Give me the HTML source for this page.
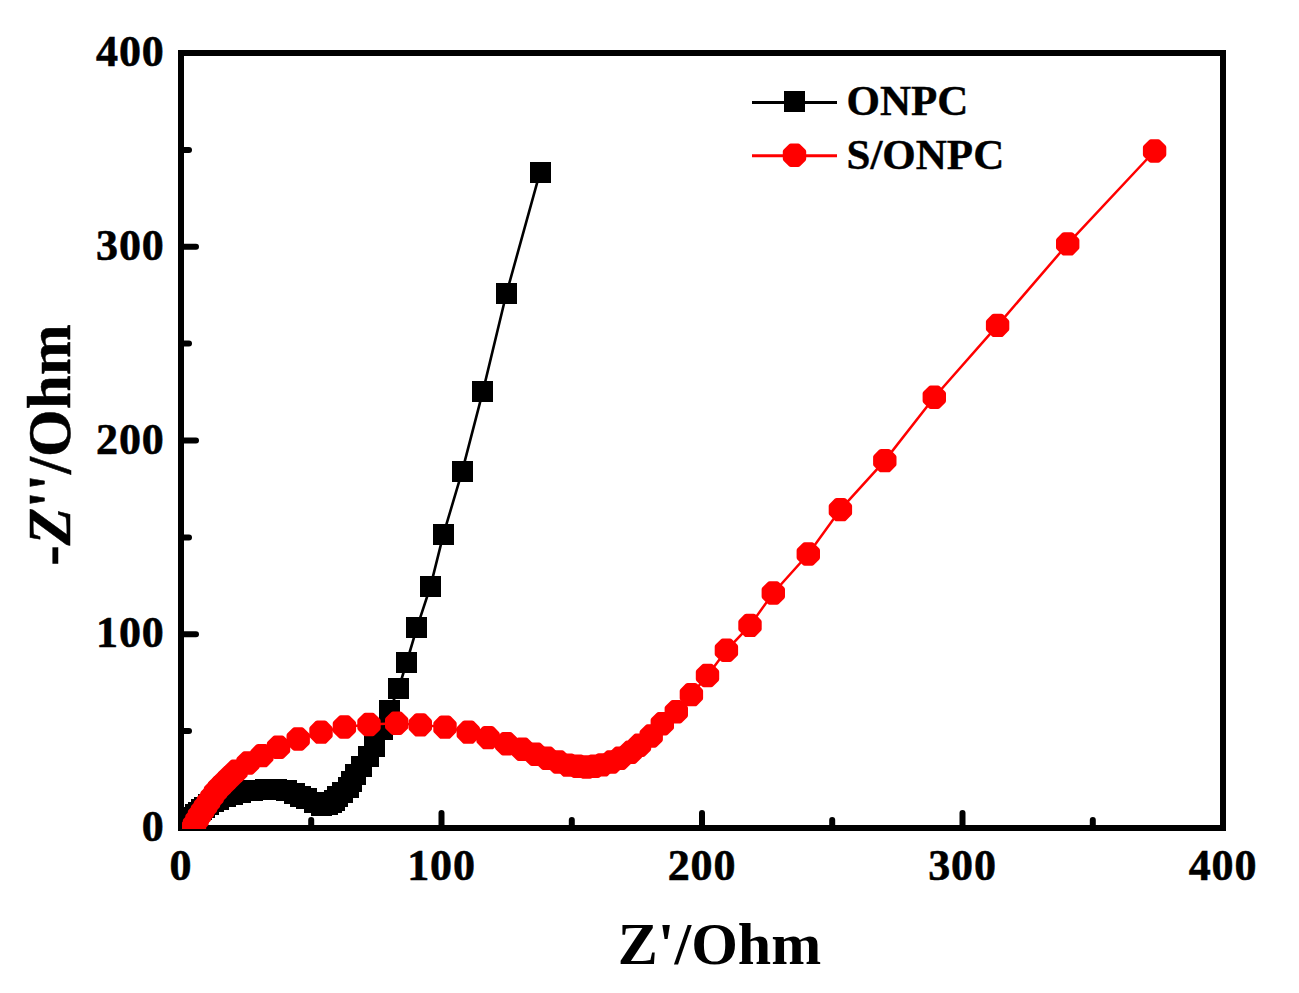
<!DOCTYPE html>
<html><head><meta charset="utf-8"><title>Nyquist plot</title>
<style>
html,body{margin:0;padding:0;background:#fff;}
body{width:1299px;height:993px;overflow:hidden;}
svg{display:block;}
text{font-family:"Liberation Serif",serif;font-weight:bold;fill:#000;}
</style></head><body>
<svg width="1299" height="993" viewBox="0 0 1299 993">
<rect x="0" y="0" width="1299" height="993" fill="#fff"/>

<g stroke="#000" stroke-width="6" fill="none" stroke-linecap="round">
<rect x="181" y="53" width="1042" height="775" stroke-linejoin="miter"/>
<line x1="311.2" y1="828" x2="311.2" y2="820"/>
<line x1="181" y1="731.1" x2="189" y2="731.1"/>
<line x1="441.5" y1="828" x2="441.5" y2="813"/>
<line x1="181" y1="634.2" x2="196" y2="634.2"/>
<line x1="571.8" y1="828" x2="571.8" y2="820"/>
<line x1="181" y1="537.4" x2="189" y2="537.4"/>
<line x1="702.0" y1="828" x2="702.0" y2="813"/>
<line x1="181" y1="440.5" x2="196" y2="440.5"/>
<line x1="832.2" y1="828" x2="832.2" y2="820"/>
<line x1="181" y1="343.6" x2="189" y2="343.6"/>
<line x1="962.5" y1="828" x2="962.5" y2="813"/>
<line x1="181" y1="246.8" x2="196" y2="246.8"/>
<line x1="1092.8" y1="828" x2="1092.8" y2="820"/>
<line x1="181" y1="149.9" x2="189" y2="149.9"/>
</g>
<g font-size="44" stroke="#000" stroke-width="0.6" letter-spacing="0.8">
<text x="181.0" y="880" text-anchor="middle">0</text>
<text x="164.5" y="841.0" text-anchor="end">0</text>
<text x="441.5" y="880" text-anchor="middle">100</text>
<text x="164.5" y="647.2" text-anchor="end">100</text>
<text x="702.0" y="880" text-anchor="middle">200</text>
<text x="164.5" y="453.5" text-anchor="end">200</text>
<text x="962.5" y="880" text-anchor="middle">300</text>
<text x="164.5" y="259.8" text-anchor="end">300</text>
<text x="1223.0" y="880" text-anchor="middle">400</text>
<text x="164.5" y="66.0" text-anchor="end">400</text>
</g>
<text x="719.5" y="964" font-size="60" text-anchor="middle">Z'/Ohm</text>
<text transform="translate(69.8,445) rotate(-90)" font-size="61.2" stroke="#000" stroke-width="0.5" text-anchor="middle">-<tspan font-style="italic">Z</tspan>''/Ohm</text>
<line x1="752" y1="102.5" x2="837" y2="102.5" stroke="#000" stroke-width="3"/>
<rect x="784" y="91" width="21" height="21" fill="#000"/>
<text x="846.5" y="115" font-size="43" stroke="#000" stroke-width="0.4">ONPC</text>
<line x1="752" y1="155.7" x2="837" y2="155.7" stroke="#f00" stroke-width="3"/>
<path d="M785.8,151.6L790.9,146.5L798.1,146.5L803.2,151.6L803.2,158.8L798.1,163.9L790.9,163.9L785.8,158.8Z" fill="#f00" stroke="#f00" stroke-width="6" stroke-linejoin="round"/>
<text x="846.5" y="169.3" font-size="43" stroke="#000" stroke-width="0.4">S/ONPC</text>
<clipPath id="c"><rect x="182" y="52" width="1042" height="777"/></clipPath><g clip-path="url(#c)">
<polyline points="186.0,827.0 188.0,824.0 190.0,821.0 192.5,817.5 195.4,814.8 198.6,812.4 201.6,809.7 204.7,807.6 208.5,804.7 213.5,801.5 218.7,799.1 225.6,796.2 232.6,794.1 240.5,792.2 252.2,790.9 265.3,789.5 276.0,789.8 286.2,790.9 294.1,793.5 300.6,796.1 306.5,798.7 315.0,802.0 321.6,805.3 327.4,805.0 331.7,802.2 334.8,800.3 337.4,796.5 342.1,792.4 348.1,787.4 351.1,781.3 355.6,774.4 361.6,766.4 368.3,756.4 374.3,746.1 382.4,729.1 389.3,710.5 398.5,689.0 406.6,662.5 417.0,627.4 430.5,586.4 443.5,534.2 462.0,471.9 482.9,391.3 506.5,293.3 540.0,172.3" fill="none" stroke="#000" stroke-width="2.6"/>
<g fill="#000">
<rect x="176" y="816" width="21" height="21"/>
<rect x="178" y="814" width="21" height="21"/>
<rect x="180" y="810" width="21" height="21"/>
<rect x="182" y="807" width="21" height="21"/>
<rect x="185" y="804" width="21" height="21"/>
<rect x="188" y="802" width="21" height="21"/>
<rect x="191" y="799" width="21" height="21"/>
<rect x="194" y="797" width="21" height="21"/>
<rect x="198" y="794" width="21" height="21"/>
<rect x="203" y="791" width="21" height="21"/>
<rect x="208" y="789" width="21" height="21"/>
<rect x="215" y="786" width="21" height="21"/>
<rect x="222" y="784" width="21" height="21"/>
<rect x="230" y="782" width="21" height="21"/>
<rect x="242" y="780" width="21" height="21"/>
<rect x="255" y="779" width="21" height="21"/>
<rect x="266" y="779" width="21" height="21"/>
<rect x="276" y="780" width="21" height="21"/>
<rect x="284" y="783" width="21" height="21"/>
<rect x="290" y="786" width="21" height="21"/>
<rect x="296" y="788" width="21" height="21"/>
<rect x="304" y="792" width="21" height="21"/>
<rect x="311" y="795" width="21" height="21"/>
<rect x="317" y="794" width="21" height="21"/>
<rect x="321" y="792" width="21" height="21"/>
<rect x="324" y="790" width="21" height="21"/>
<rect x="327" y="786" width="21" height="21"/>
<rect x="332" y="782" width="21" height="21"/>
<rect x="338" y="777" width="21" height="21"/>
<rect x="341" y="771" width="21" height="21"/>
<rect x="345" y="764" width="21" height="21"/>
<rect x="351" y="756" width="21" height="21"/>
<rect x="358" y="746" width="21" height="21"/>
<rect x="364" y="736" width="21" height="21"/>
<rect x="372" y="719" width="21" height="21"/>
<rect x="379" y="700" width="21" height="21"/>
<rect x="388" y="678" width="21" height="21"/>
<rect x="396" y="652" width="21" height="21"/>
<rect x="406" y="617" width="21" height="21"/>
<rect x="420" y="576" width="21" height="21"/>
<rect x="433" y="524" width="21" height="21"/>
<rect x="452" y="461" width="21" height="21"/>
<rect x="472" y="381" width="21" height="21"/>
<rect x="496" y="283" width="21" height="21"/>
<rect x="530" y="162" width="21" height="21"/>
</g>
<polyline points="190.5,832.0 192.0,829.0 194.5,824.5 197.0,820.0 199.5,815.5 202.5,811.0 205.5,806.5 208.5,802.0 212.0,797.0 215.5,792.0 219.5,787.5 224.0,783.0 229.5,777.5 236.0,771.3 248.0,763.0 261.8,755.6 278.5,747.3 298.2,739.0 321.0,732.1 344.4,727.0 369.0,724.5 396.7,723.3 420.3,724.9 445.0,727.1 468.3,732.1 488.1,737.6 506.6,743.7 522.3,749.3 535.5,754.3 547.0,758.3 558.5,762.0 568.2,765.1 577.6,766.2 586.6,767.0 594.5,766.2 602.3,764.9 611.5,762.0 620.0,758.2 630.7,752.2 639.5,745.2 651.2,736.0 662.3,723.8 676.3,711.7 691.4,694.6 707.5,675.5 726.4,650.3 750.0,625.4 773.3,593.0 808.3,554.0 840.4,509.6 884.8,460.6 934.3,397.2 997.6,325.4 1067.7,243.9 1154.6,151.0" fill="none" stroke="#f00" stroke-width="2.5"/>
<g fill="#f00" stroke="#f00" stroke-width="6" stroke-linejoin="round">
<path d="M181.8,828.4L186.9,823.3L194.1,823.3L199.2,828.4L199.2,835.6L194.1,840.7L186.9,840.7L181.8,835.6Z"/>
<path d="M183.3,825.4L188.4,820.3L195.6,820.3L200.7,825.4L200.7,832.6L195.6,837.7L188.4,837.7L183.3,832.6Z"/>
<path d="M185.8,820.9L190.9,815.8L198.1,815.8L203.2,820.9L203.2,828.1L198.1,833.2L190.9,833.2L185.8,828.1Z"/>
<path d="M188.3,816.4L193.4,811.3L200.6,811.3L205.7,816.4L205.7,823.6L200.6,828.7L193.4,828.7L188.3,823.6Z"/>
<path d="M190.8,811.9L195.9,806.8L203.1,806.8L208.2,811.9L208.2,819.1L203.1,824.2L195.9,824.2L190.8,819.1Z"/>
<path d="M193.8,807.4L198.9,802.3L206.1,802.3L211.2,807.4L211.2,814.6L206.1,819.7L198.9,819.7L193.8,814.6Z"/>
<path d="M196.8,802.9L201.9,797.8L209.1,797.8L214.2,802.9L214.2,810.1L209.1,815.2L201.9,815.2L196.8,810.1Z"/>
<path d="M199.8,798.4L204.9,793.3L212.1,793.3L217.2,798.4L217.2,805.6L212.1,810.7L204.9,810.7L199.8,805.6Z"/>
<path d="M203.3,793.4L208.4,788.3L215.6,788.3L220.7,793.4L220.7,800.6L215.6,805.7L208.4,805.7L203.3,800.6Z"/>
<path d="M206.8,788.4L211.9,783.3L219.1,783.3L224.2,788.4L224.2,795.6L219.1,800.7L211.9,800.7L206.8,795.6Z"/>
<path d="M210.8,783.9L215.9,778.8L223.1,778.8L228.2,783.9L228.2,791.1L223.1,796.2L215.9,796.2L210.8,791.1Z"/>
<path d="M215.3,779.4L220.4,774.3L227.6,774.3L232.7,779.4L232.7,786.6L227.6,791.7L220.4,791.7L215.3,786.6Z"/>
<path d="M220.8,773.9L225.9,768.8L233.1,768.8L238.2,773.9L238.2,781.1L233.1,786.2L225.9,786.2L220.8,781.1Z"/>
<path d="M227.3,767.7L232.4,762.6L239.6,762.6L244.7,767.7L244.7,774.9L239.6,780.0L232.4,780.0L227.3,774.9Z"/>
<path d="M239.3,759.4L244.4,754.3L251.6,754.3L256.7,759.4L256.7,766.6L251.6,771.7L244.4,771.7L239.3,766.6Z"/>
<path d="M253.1,752.0L258.2,746.9L265.4,746.9L270.5,752.0L270.5,759.2L265.4,764.3L258.2,764.3L253.1,759.2Z"/>
<path d="M269.8,743.7L274.9,738.6L282.1,738.6L287.2,743.7L287.2,750.9L282.1,756.0L274.9,756.0L269.8,750.9Z"/>
<path d="M289.5,735.4L294.6,730.3L301.8,730.3L306.9,735.4L306.9,742.6L301.8,747.7L294.6,747.7L289.5,742.6Z"/>
<path d="M312.3,728.5L317.4,723.4L324.6,723.4L329.7,728.5L329.7,735.7L324.6,740.8L317.4,740.8L312.3,735.7Z"/>
<path d="M335.7,723.4L340.8,718.3L348.0,718.3L353.1,723.4L353.1,730.6L348.0,735.7L340.8,735.7L335.7,730.6Z"/>
<path d="M360.3,720.9L365.4,715.8L372.6,715.8L377.7,720.9L377.7,728.1L372.6,733.2L365.4,733.2L360.3,728.1Z"/>
<path d="M388.0,719.7L393.1,714.6L400.3,714.6L405.4,719.7L405.4,726.9L400.3,732.0L393.1,732.0L388.0,726.9Z"/>
<path d="M411.6,721.3L416.7,716.2L423.9,716.2L429.0,721.3L429.0,728.5L423.9,733.6L416.7,733.6L411.6,728.5Z"/>
<path d="M436.3,723.5L441.4,718.4L448.6,718.4L453.7,723.5L453.7,730.7L448.6,735.8L441.4,735.8L436.3,730.7Z"/>
<path d="M459.6,728.5L464.7,723.4L471.9,723.4L477.0,728.5L477.0,735.7L471.9,740.8L464.7,740.8L459.6,735.7Z"/>
<path d="M479.4,734.0L484.5,728.9L491.7,728.9L496.8,734.0L496.8,741.2L491.7,746.3L484.5,746.3L479.4,741.2Z"/>
<path d="M497.9,740.1L503.0,735.0L510.2,735.0L515.3,740.1L515.3,747.3L510.2,752.4L503.0,752.4L497.9,747.3Z"/>
<path d="M513.6,745.7L518.7,740.6L525.9,740.6L531.0,745.7L531.0,752.9L525.9,758.0L518.7,758.0L513.6,752.9Z"/>
<path d="M526.8,750.7L531.9,745.6L539.1,745.6L544.2,750.7L544.2,757.9L539.1,763.0L531.9,763.0L526.8,757.9Z"/>
<path d="M538.3,754.7L543.4,749.6L550.6,749.6L555.7,754.7L555.7,761.9L550.6,767.0L543.4,767.0L538.3,761.9Z"/>
<path d="M549.8,758.4L554.9,753.3L562.1,753.3L567.2,758.4L567.2,765.6L562.1,770.7L554.9,770.7L549.8,765.6Z"/>
<path d="M559.5,761.5L564.6,756.4L571.8,756.4L576.9,761.5L576.9,768.7L571.8,773.8L564.6,773.8L559.5,768.7Z"/>
<path d="M568.9,762.6L574.0,757.5L581.2,757.5L586.3,762.6L586.3,769.8L581.2,774.9L574.0,774.9L568.9,769.8Z"/>
<path d="M577.9,763.4L583.0,758.3L590.2,758.3L595.3,763.4L595.3,770.6L590.2,775.7L583.0,775.7L577.9,770.6Z"/>
<path d="M585.8,762.6L590.9,757.5L598.1,757.5L603.2,762.6L603.2,769.8L598.1,774.9L590.9,774.9L585.8,769.8Z"/>
<path d="M593.6,761.3L598.7,756.2L605.9,756.2L611.0,761.3L611.0,768.5L605.9,773.6L598.7,773.6L593.6,768.5Z"/>
<path d="M602.8,758.4L607.9,753.3L615.1,753.3L620.2,758.4L620.2,765.6L615.1,770.7L607.9,770.7L602.8,765.6Z"/>
<path d="M611.3,754.6L616.4,749.5L623.6,749.5L628.7,754.6L628.7,761.8L623.6,766.9L616.4,766.9L611.3,761.8Z"/>
<path d="M622.0,748.6L627.1,743.5L634.3,743.5L639.4,748.6L639.4,755.8L634.3,760.9L627.1,760.9L622.0,755.8Z"/>
<path d="M630.8,741.6L635.9,736.5L643.1,736.5L648.2,741.6L648.2,748.8L643.1,753.9L635.9,753.9L630.8,748.8Z"/>
<path d="M642.5,732.4L647.6,727.3L654.8,727.3L659.9,732.4L659.9,739.6L654.8,744.7L647.6,744.7L642.5,739.6Z"/>
<path d="M653.6,720.2L658.7,715.1L665.9,715.1L671.0,720.2L671.0,727.4L665.9,732.5L658.7,732.5L653.6,727.4Z"/>
<path d="M667.6,708.1L672.7,703.0L679.9,703.0L685.0,708.1L685.0,715.3L679.9,720.4L672.7,720.4L667.6,715.3Z"/>
<path d="M682.7,691.0L687.8,685.9L695.0,685.9L700.1,691.0L700.1,698.2L695.0,703.3L687.8,703.3L682.7,698.2Z"/>
<path d="M698.8,671.9L703.9,666.8L711.1,666.8L716.2,671.9L716.2,679.1L711.1,684.2L703.9,684.2L698.8,679.1Z"/>
<path d="M717.7,646.7L722.8,641.6L730.0,641.6L735.1,646.7L735.1,653.9L730.0,659.0L722.8,659.0L717.7,653.9Z"/>
<path d="M741.3,621.8L746.4,616.7L753.6,616.7L758.7,621.8L758.7,629.0L753.6,634.1L746.4,634.1L741.3,629.0Z"/>
<path d="M764.6,589.4L769.7,584.3L776.9,584.3L782.0,589.4L782.0,596.6L776.9,601.7L769.7,601.7L764.6,596.6Z"/>
<path d="M799.6,550.4L804.7,545.3L811.9,545.3L817.0,550.4L817.0,557.6L811.9,562.7L804.7,562.7L799.6,557.6Z"/>
<path d="M831.7,506.0L836.8,500.9L844.0,500.9L849.1,506.0L849.1,513.2L844.0,518.3L836.8,518.3L831.7,513.2Z"/>
<path d="M876.1,457.0L881.2,451.9L888.4,451.9L893.5,457.0L893.5,464.2L888.4,469.3L881.2,469.3L876.1,464.2Z"/>
<path d="M925.6,393.6L930.7,388.5L937.9,388.5L943.0,393.6L943.0,400.8L937.9,405.9L930.7,405.9L925.6,400.8Z"/>
<path d="M988.9,321.8L994.0,316.7L1001.2,316.7L1006.3,321.8L1006.3,329.0L1001.2,334.1L994.0,334.1L988.9,329.0Z"/>
<path d="M1059.0,240.3L1064.1,235.2L1071.3,235.2L1076.4,240.3L1076.4,247.5L1071.3,252.6L1064.1,252.6L1059.0,247.5Z"/>
<path d="M1145.9,147.4L1151.0,142.3L1158.2,142.3L1163.3,147.4L1163.3,154.6L1158.2,159.7L1151.0,159.7L1145.9,154.6Z"/>
</g>
</g>
</svg></body></html>
